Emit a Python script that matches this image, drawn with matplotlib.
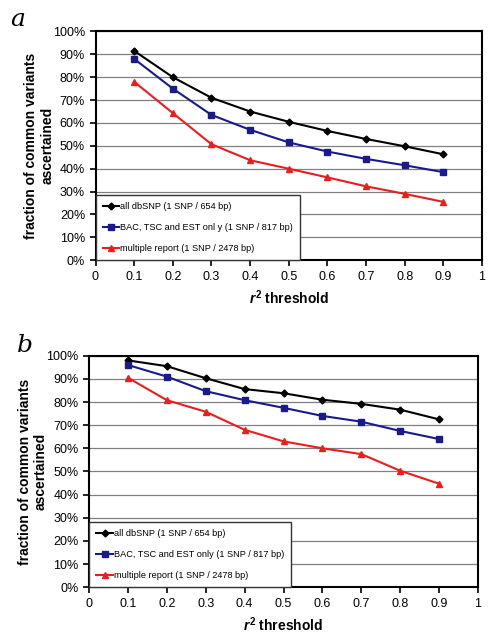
import matplotlib.pyplot as plt
from matplotlib.ticker import FuncFormatter

plt.rcParams['font.family'] = ['Liberation Sans', 'DejaVu Sans']
plt.rcParams['mathtext.fontset'] = 'custom'
plt.rcParams['mathtext.it'] = 'Liberation Sans:italic:bold'
plt.rcParams['mathtext.rm'] = 'Liberation Sans:bold'

r2 = [0.1, 0.2, 0.3, 0.4, 0.5, 0.6, 0.7, 0.8, 0.9]

# panel a
a_all = [91.5, 80.0, 71.0, 65.0, 60.5, 56.5, 53.0, 49.8, 46.3]
a_bac = [88.0, 75.0, 63.5, 57.0, 51.5, 47.5, 44.3, 41.5, 38.5]
a_mult = [78.0, 64.3, 50.7, 43.7, 40.0, 36.2, 32.3, 29.0, 25.5]

# panel b
b_all = [98.0, 95.5, 90.3, 85.6, 83.8, 81.0, 79.2, 76.7, 72.5]
b_bac = [96.0, 91.0, 84.7, 80.8, 77.5, 74.0, 71.5, 67.5, 64.0]
b_mult = [90.5, 80.8, 75.8, 68.0, 63.0, 60.0, 57.5, 50.3, 44.7]

labels_a = ["all dbSNP (1 SNP / 654 bp)",
            "BAC, TSC and EST onl y (1 SNP / 817 bp)",
            "multiple report (1 SNP / 2478 bp)"]
labels_b = ["all dbSNP (1 SNP / 654 bp)",
            "BAC, TSC and EST only (1 SNP / 817 bp)",
            "multiple report (1 SNP / 2478 bp)"]

fig = plt.figure(figsize=(5, 6.41), dpi=100)
ax_a = fig.add_axes([0.191, 0.594, 0.773, 0.357])
ax_b = fig.add_axes([0.178, 0.084, 0.778, 0.361])


def draw(ax, all_, bac, mult, labels):
    ax.plot(r2, all_, color='black', marker='D', ms=3.5, lw=1.5, label=labels[0])
    ax.plot(r2, bac, color='#1a1a8c', marker='s', ms=4, lw=1.5, label=labels[1])
    ax.plot(r2, mult, color='#ee1c1c', marker='^', ms=4.5, lw=1.5, label=labels[2])
    ax.set_xlim(0, 1)
    ax.set_ylim(0, 100)
    ax.set_xticks([0, 0.1, 0.2, 0.3, 0.4, 0.5, 0.6, 0.7, 0.8, 0.9, 1])
    ax.set_xticklabels(['0', '0.1', '0.2', '0.3', '0.4', '0.5', '0.6', '0.7', '0.8', '0.9', '1'])
    ax.set_yticks(range(0, 101, 10))
    ax.yaxis.set_major_formatter(FuncFormatter(lambda v, p: f"{int(v)}%"))
    ax.grid(axis='y', color='#808080', lw=0.9)
    ax.set_axisbelow(True)
    for s in ax.spines.values():
        s.set_linewidth(1.5)
    ax.tick_params(direction='out', length=4, width=1.2, labelsize=9)
    ax.set_xlabel('$\\it{r}^2$ threshold', fontsize=10, fontweight='bold')
    ax.set_ylabel('fraction of common variants\nascertained', fontsize=10,
                  fontweight='bold', labelpad=-1)
    leg = ax.legend(loc='lower left', bbox_to_anchor=(0, 0), fontsize=6.6, frameon=True,
                    fancybox=False, edgecolor='#333333', framealpha=1,
                    borderaxespad=0, handlelength=1.8, labelspacing=1.3,
                    borderpad=0.8, handletextpad=0.1)
    leg.get_frame().set_linewidth(1.0)


draw(ax_a, a_all, a_bac, a_mult, labels_a)
draw(ax_b, b_all, b_bac, b_mult, labels_b)

fig.text(0.02, 0.97, 'a', fontsize=18, style='italic', family='DejaVu Serif', va='center')
fig.text(0.034, 0.461, 'b', fontsize=18, style='italic', family='DejaVu Serif', va='center')

plt.savefig("out.png")
